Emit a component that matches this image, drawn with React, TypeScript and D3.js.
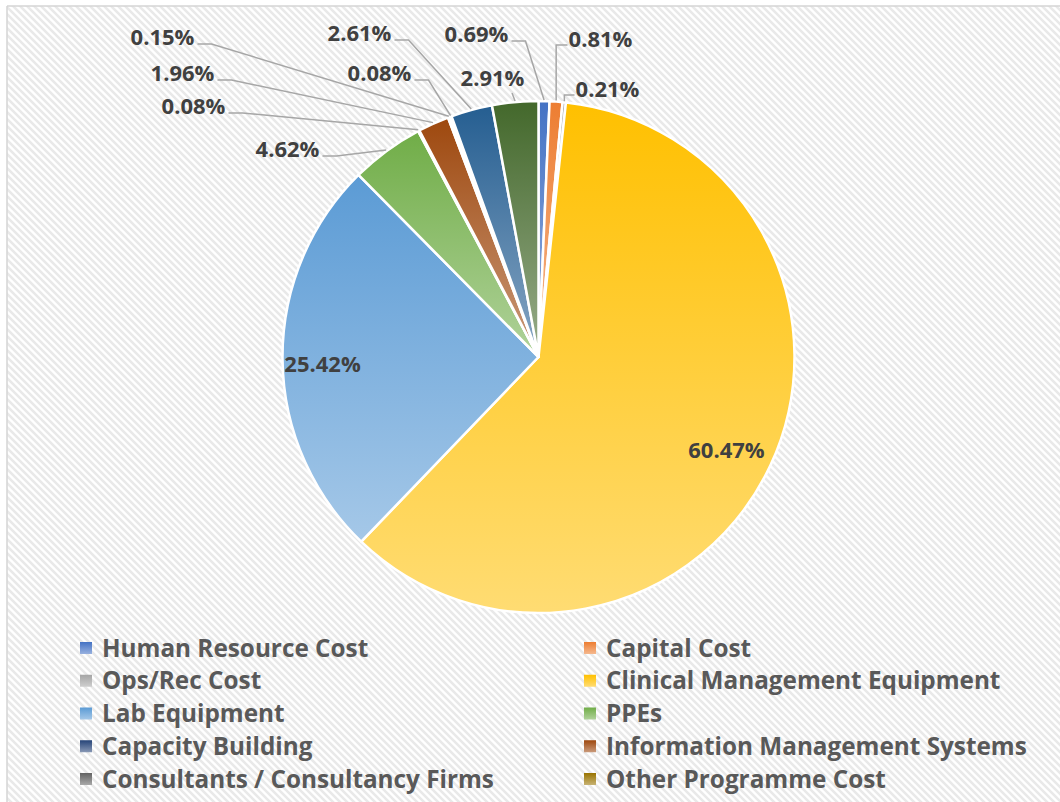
import React from "react";
import * as d3 from "d3";

// ---- data ----
const categories = [
  "Human Resource Cost",
  "Capital Cost",
  "Ops/Rec Cost",
  "Clinical Management Equipment",
  "Lab Equipment",
  "PPEs",
  "Capacity Building",
  "Information Management Systems",
  "Consultants / Consultancy Firms",
  "Other Programme Cost",
];
const values = [0.69, 0.81, 0.21, 60.47, 25.42, 4.62, 0.08, 1.96, 0.15, 0.08, 2.61, 2.91];
const valueLabels = ["0.69%", "0.81%", "0.21%", "60.47%", "25.42%", "4.62%", "0.08%", "1.96%", "0.15%", "0.08%", "2.61%", "2.91%"];
const colors = [
  "#4472C4", "#ED7D31", "#A5A5A5", "#FFC000", "#5B9BD5", "#70AD47",
  "#264478", "#9E480E", "#636363", "#997300", "#255E91", "#43682B",
];

// ---- layout (label placement, relative to pie center) ----
const W = 1060;
const H = 802;
const cx = 538.5;
const cy = 357;
const R = 256;
// [dx, dy, leader side]
const labelLayout: [number, number, string][] = [
  [-62, -323, "right"],
  [62, -318, "left"],
  [69, -268, "left"],
  [188, 93, "none"],
  [-216, 7, "none"],
  [-251, -208, "right"],
  [-345, -251, "right"],
  [-356, -284, "right"],
  [-376, -320, "right"],
  [-159, -284, "right"],
  [-179, -324, "right"],
  [-46, -279, "bottom"],
];

const lighten = (c: string) => d3.interpolateRgb(c, "#ffffff")(0.45);

export default function App() {
  const pie = d3.pie<number>().sort(null).value((d) => d);
  const arcs = pie(values);
  const arcGen = d3.arc<d3.PieArcDatum<number>>().innerRadius(0).outerRadius(R);
  const edgeArc = d3.arc<d3.PieArcDatum<number>>().innerRadius(R + 1).outerRadius(R + 1);

  const labelFont = 22;
  const legendFont = 24.3;

  // approximate label half-width
  const halfW = (s: string) => (s.length === 5 ? 30 : 36);

  const legendX = [80, 584];
  const legendY0 = 648;
  const legendStep = 32.75;

  return (
    <svg
      width={W}
      height={H}
      style={{ position: "absolute", left: 0, top: 0, display: "block", background: "#fff" }}
      fontFamily="'Open Sans', sans-serif"
    >
      <defs>
        <pattern id="bgpat" patternUnits="userSpaceOnUse" width={7} height={7}>
          <rect width={7} height={7} fill="#ffffff" />
          <path d="M-2,5 L2,9 M0,0 L7,7 M5,-2 L9,2" stroke="#e9e9e9" strokeWidth={2.5} />
        </pattern>
        {colors.map((c, i) => (
          <linearGradient key={i} id={`g${i}`} x1="0" y1="0" x2="0" y2="1">
            <stop offset="0" stopColor={c} />
            <stop offset="1" stopColor={lighten(c)} />
          </linearGradient>
        ))}
      </defs>
      <rect x={7} y={6} width={W} height={H} fill="url(#bgpat)" />
      <line x1={7} y1={6} x2={7} y2={H} stroke="#d4d4d4" strokeWidth={1.5} />
      <line x1={7} y1={6} x2={W} y2={6} stroke="#d4d4d4" strokeWidth={1.5} />

      <g transform={`translate(${cx},${cy})`}>
        {arcs.map((a, i) => (
          <path key={i} d={arcGen(a) || ""} fill={`url(#g${i})`} stroke="#ffffff" strokeWidth={2.5} strokeLinejoin="round" />
        ))}
        {arcs.map((a, i) => {
          const [dx, dy, side] = labelLayout[i];
          if (side === "none") return null;
          const [ex, ey] = edgeArc.centroid(a);
          const hw = halfW(valueLabels[i]);
          let pts: [number, number][] = [];
          if (side === "right") {
            const sx = dx + hw + 5;
            const sy = dy + 7;
            pts = [[sx, sy], [sx + 14, sy], [ex, ey]];
          } else if (side === "left") {
            const sx = dx - hw - 3;
            const sy = dy + 6;
            pts = [[sx, sy], [ex, sy], [ex, ey]];
          } else {
            pts = [[ex - 3, dy + 15], [ex, ey]];
          }
          return (
            <polyline
              key={`l${i}`}
              points={pts.map((p) => p.join(",")).join(" ")}
              fill="none"
              stroke="#a6a6a6"
              strokeWidth={1.5}
            />
          );
        })}
        {arcs.map((a, i) => {
          const [dx, dy] = labelLayout[i];
          return (
            <text
              key={`t${i}`}
              x={dx}
              y={dy}
              dy="0.36em"
              textAnchor="middle"
              fontSize={labelFont}
              fontWeight="bold"
              fill="#404040"
            >
              {valueLabels[i]}
            </text>
          );
        })}
      </g>

      <g>
        {categories.map((name, i) => {
          const col = i % 2;
          const row = Math.floor(i / 2);
          const x = legendX[col];
          const y = legendY0 + row * legendStep;
          return (
            <g key={name}>
              <rect x={x} y={y - 6} width={12} height={12} fill={`url(#g${i})`} />
              <text x={x + 22} y={y} dy="0.36em" fontSize={legendFont} fontWeight="bold" fill="#595959">
                {name}
              </text>
            </g>
          );
        })}
      </g>
    </svg>
  );
}
